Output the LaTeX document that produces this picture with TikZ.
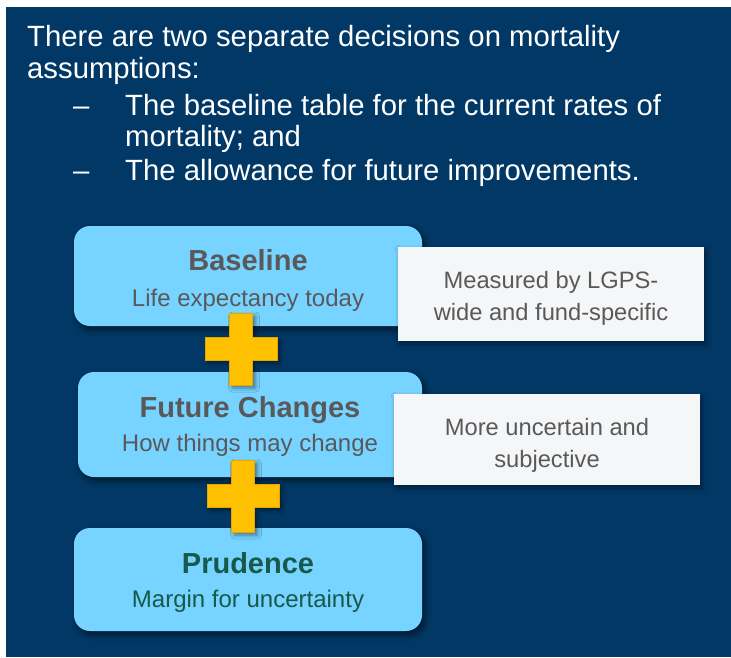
\documentclass[tikz,border=0pt]{standalone}
\usepackage{fontspec}
\setmainfont{Liberation Sans}
\usetikzlibrary{shadows.blur}

\definecolor{navy}{HTML}{023865}
\definecolor{skyblue}{HTML}{77D3FF}
\definecolor{notewhite}{HTML}{F5F6F8}
\definecolor{textgray}{HTML}{595959}
\definecolor{textgreen}{HTML}{17594A}
\definecolor{gold}{HTML}{FFC000}
\definecolor{golddark}{HTML}{E5A800}

\tikzset{
  bluebox/.style={rounded corners=16pt, fill=skyblue, inner sep=0pt, outer sep=0pt,
    blur shadow={shadow xshift=3pt, shadow yshift=-4pt, shadow blur radius=6pt, shadow opacity=55}},
  notebox/.style={fill=notewhite, inner sep=0pt, outer sep=0pt,
    blur shadow={shadow xshift=2pt, shadow yshift=-3pt, shadow blur radius=5pt, shadow opacity=40}},
  boxtitle/.style={font=\fontsize{29}{32}\selectfont\bfseries, text=textgray, anchor=base, inner sep=0pt},
  boxsub/.style={font=\fontsize{24}{28}\selectfont, text=textgray, anchor=base, inner sep=0pt},
  notetext/.style={font=\fontsize{23.7}{32}\selectfont, text=textgray, align=center, anchor=base, inner sep=0pt},
  introtext/.style={font=\fontsize{29.3}{32}\selectfont, text=white, align=left, anchor=base west, inner sep=0pt},
  plusbar/.style={fill=gold, draw=golddark, line width=0.6pt,
    blur shadow={shadow xshift=3pt, shadow yshift=-3pt, shadow blur radius=4pt, shadow opacity=45}}
}

\begin{document}
\begin{tikzpicture}[x=1pt, y=-1pt]
  \useasboundingbox (0,0) rectangle (731,657);
  \fill[navy] (6,7) rectangle (731,657);

  % intro text (multi-line nodes sit on their last baseline)
  \node[introtext] (intro) at (27,78.5) {There are two separate decisions on mortality\\assumptions:};
  \node[introtext] (dashA) at (73,115) {–};
  \node[introtext, font=\fontsize{29.3}{31.5}\selectfont] (itemA) at (125,146.5) {The baseline table for the current rates of\\mortality; and};
  \node[introtext] (dashB) at (73,180) {–};
  \node[introtext] (itemB) at (125,180) {The allowance for future improvements.};

  % blue boxes
  \node[bluebox, minimum width=348pt, minimum height=100pt] (base) at (248,276) {};
  \node[bluebox, minimum width=344pt, minimum height=105pt] (future) at (250,424.5) {};
  \node[bluebox, minimum width=348pt, minimum height=103pt] (prud) at (248,579.5) {};

  \node[boxtitle] (baseTitle) at ([yshift=-44pt]base.north) {Baseline};
  \node[boxsub] (baseSub) at ([yshift=-80pt]base.north) {Life expectancy today};
  \node[boxtitle] (futureTitle) at ([yshift=-45.5pt]future.north) {Future Changes};
  \node[boxsub] (futureSub) at ([yshift=-79.5pt]future.north) {How things may change};
  \node[boxtitle, text=textgreen] (prudTitle) at ([yshift=-45pt]prud.north) {Prudence};
  \node[boxsub, text=textgreen] (prudSub) at ([yshift=-79pt]prud.north) {Margin for uncertainty};

  % note boxes
  \node[notebox, minimum width=306pt, minimum height=94pt] (noteA) at (551,294) {};
  \node[notebox, minimum width=306pt, minimum height=91pt] (noteB) at (547,439.5) {};
  \node[notetext] (noteAText) at ([yshift=-73pt]noteA.north) {Measured by LGPS-\\wide and fund-specific};
  \node[notetext] (noteBText) at ([yshift=-73pt]noteB.north) {More uncertain and\\subjective};

  % plus signs
  \coordinate (plusA) at (241,349);
  \coordinate (plusB) at (243,496);
  \path[plusbar] (plusA) ++(-11.5,-36) -- ++(23,0) -- ++(0,24.5) -- ++(24.5,0) -- ++(0,23)
    -- ++(-24.5,0) -- ++(0,24.5) -- ++(-23,0) -- ++(0,-24.5) -- ++(-24.5,0) -- ++(0,-23)
    -- ++(24.5,0) -- cycle;
  \path[plusbar] (plusB) ++(-11.5,-36) -- ++(23,0) -- ++(0,24.5) -- ++(24.5,0) -- ++(0,23)
    -- ++(-24.5,0) -- ++(0,24.5) -- ++(-23,0) -- ++(0,-24.5) -- ++(-24.5,0) -- ++(0,-23)
    -- ++(24.5,0) -- cycle;
\end{tikzpicture}
\end{document}
